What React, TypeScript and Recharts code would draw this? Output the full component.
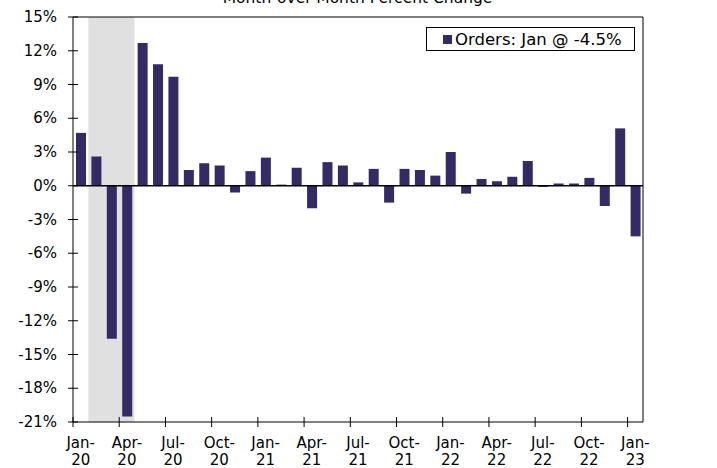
import {
  BarChart, Bar, XAxis, YAxis, Legend, ReferenceArea, ReferenceLine,
} from 'recharts';

const MONTHS = [
  'Jan-20', 'Feb-20', 'Mar-20', 'Apr-20', 'May-20', 'Jun-20', 'Jul-20', 'Aug-20', 'Sep-20', 'Oct-20', 'Nov-20', 'Dec-20',
  'Jan-21', 'Feb-21', 'Mar-21', 'Apr-21', 'May-21', 'Jun-21', 'Jul-21', 'Aug-21', 'Sep-21', 'Oct-21', 'Nov-21', 'Dec-21',
  'Jan-22', 'Feb-22', 'Mar-22', 'Apr-22', 'May-22', 'Jun-22', 'Jul-22', 'Aug-22', 'Sep-22', 'Oct-22', 'Nov-22', 'Dec-22',
  'Jan-23',
];

// month-over-month % change in orders
const ORDERS = [
  4.7, 2.6, -13.6, -20.5, 12.7, 10.8, 9.7, 1.4, 2.0, 1.8, -0.6, 1.3,
  2.5, 0.1, 1.6, -2.0, 2.1, 1.8, 0.3, 1.5, -1.5, 1.5, 1.4, 0.9,
  3.0, -0.7, 0.6, 0.4, 0.8, 2.2, -0.1, 0.2, 0.2, 0.7, -1.8, 5.1,
  -4.5,
];

const Y_TICKS = [-21, -18, -15, -12, -9, -6, -3, 0, 3, 6, 9, 12, 15];
const RECESSION = ['Feb-20', 'Apr-20'];

const W = 717;
const H = 468;
const LEFT_W = 73;
const RIGHT_W = 74;
const BAND = (W - LEFT_W - RIGHT_W) / MONTHS.length;
const FONT = 'DejaVu Sans, Verdana, sans-serif';
const BAR_COLOR = '#342a66';

const data = MONTHS.map((m, i) => ({ month: m, orders: ORDERS[i] }));

const LeftTick = ({ x, y, payload }: any) => (
  <g>
    <line x1={x + 11} x2={x + 21} y1={y} y2={y} stroke="#000" />
    <text x={x} y={y} dy={5} textAnchor="end" fill="#000" fontSize={15} fontFamily={FONT}>
      {payload.value}%
    </text>
  </g>
);

const RightTick = ({ x, y, payload }: any) => (
  <g>
    <line x1={x - 20} x2={x - 10} y1={y} y2={y} stroke="#000" />
    <text x={x} y={y} dy={5} textAnchor="start" fill="#000" fontSize={15} fontFamily={FONT}>
      {payload.value}%
    </text>
  </g>
);

const MonthTick = ({ x, y, payload }: any) => {
  const [mon, yr] = String(payload.value).split('-');
  const edge = x - BAND / 2;
  return (
    <g>
      <line x1={edge} x2={edge} y1={y - 10} y2={y} stroke="#000" />
      <text x={x} y={y + 21} textAnchor="middle" fill="#000" fontSize={15} fontFamily={FONT}>{mon}-</text>
      <text x={x} y={y + 38} textAnchor="middle" fill="#000" fontSize={15} fontFamily={FONT}>{yr}</text>
    </g>
  );
};

const LegendBox = () => (
  <div style={{
    border: '1px solid #000', background: '#fff', width: 207, height: 22,
    display: 'flex', alignItems: 'center', fontFamily: FONT, fontSize: 16.5, color: '#000',
  }}>
    <span style={{ display: 'inline-block', width: 9, height: 9, background: BAR_COLOR, marginLeft: 16, marginRight: 3 }} />
    <span>Orders: Jan @ -4.5%</span>
  </div>
);

export default function App() {
  return (
    <div style={{ position: 'absolute', left: 0, top: 0, width: W, height: H, background: '#fff', overflow: 'hidden' }}>
      <div style={{
        position: 'absolute', top: -9, left: 0, width: W - 2, textAlign: 'center',
        fontFamily: FONT, fontSize: 15.5, lineHeight: '15px', color: '#000',
      }}>
        Month-over-Month Percent Change
      </div>
      <BarChart width={W} height={H} data={data} margin={{ top: 17, right: 0, bottom: 0, left: 0 }} barSize={10}>
        <XAxis
          dataKey="month"
          interval={2}
          height={46}
          tickLine={false}
          tickSize={5}
          tickMargin={0}
          axisLine={{ stroke: '#000' }}
          tick={<MonthTick />}
        />
        <YAxis
          yAxisId="left"
          width={LEFT_W}
          domain={[-21, 15]}
          ticks={Y_TICKS}
          tickLine={false}
          tickSize={5}
          tickMargin={11}
          axisLine={{ stroke: '#000' }}
          tick={<LeftTick />}
        />
        <YAxis
          yAxisId="right"
          orientation="right"
          width={RIGHT_W}
          domain={[-21, 15]}
          ticks={Y_TICKS}
          tickLine={false}
          tickSize={5}
          tickMargin={10}
          axisLine={{ stroke: '#000' }}
          tick={<RightTick />}
        />
        <ReferenceArea yAxisId="left" x1={RECESSION[0]} x2={RECESSION[1]} fill="#e0e0e0" fillOpacity={1} stroke="none" />
        <Bar yAxisId="left" dataKey="orders" fill={BAR_COLOR} isAnimationActive={false} />
        <ReferenceLine yAxisId="left" y={0} stroke="#000" strokeWidth={1.5} />
        <ReferenceLine yAxisId="left" y={15} stroke="#000" />
        <Legend
          layout="horizontal"
          verticalAlign="middle"
          align="center"
          content={<LegendBox />}
          wrapperStyle={{ position: 'absolute', left: 426, top: 27, width: 209, height: 24 }}
        />
      </BarChart>
    </div>
  );
}
